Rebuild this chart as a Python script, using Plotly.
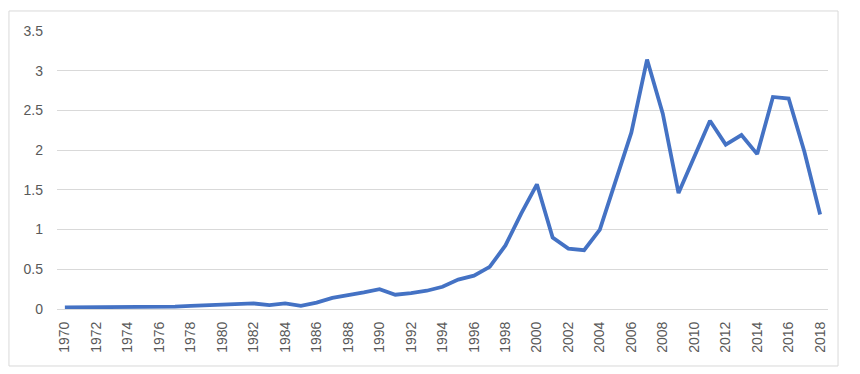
import plotly.graph_objects as go

years = list(range(1970, 2019))
values = [0.02, 0.02, 0.02, 0.02, 0.03, 0.03, 0.02, 0.03, 0.04, 0.05,
          0.06, 0.07, 0.07, 0.05, 0.07, 0.04, 0.08, 0.14, 0.17, 0.21,
          0.25, 0.18, 0.20, 0.23, 0.28, 0.37, 0.42, 0.53, 0.80, 1.20,
          1.57, 0.90, 0.76, 0.74, 1.00, 1.60, 2.22, 3.14, 2.46, 1.46,
          1.93, 2.37, 2.07, 2.19, 1.95, 2.67, 2.65, 1.98, 1.19]
tick_years = list(range(1970, 2019, 2))
y_ticks = [0, 0.5, 1, 1.5, 2, 2.5, 3, 3.5]
y_labels = ["0", "0.5", "1", "1.5", "2", "2.5", "3", "3.5"]

fig = go.Figure()
fig.add_trace(go.Scatter(x=years, y=values, mode="lines",
                         line=dict(color="#4472C4", width=3.8)))

fig.update_layout(
    width=860, height=374,
    margin=dict(l=49, r=40, t=23, b=73),
    paper_bgcolor="white", plot_bgcolor="white",
    showlegend=False,
    font=dict(family="Liberation Sans, Arial, sans-serif", size=14, color="#595959"),
    xaxis=dict(range=[1969.5, 2018.5], tickvals=tick_years,
               ticktext=[str(y) for y in tick_years], tickangle=-90,
               showgrid=False, zeroline=False, showline=True,
               linecolor="#d9d9d9", linewidth=1, ticks="", ticklabelstandoff=6,
               tickfont=dict(size=14)),
    yaxis=dict(range=[0, 3.5], tickvals=y_ticks, ticktext=y_labels,
               showgrid=True, gridcolor="#d9d9d9", gridwidth=1,
               zeroline=False, showline=False, ticks="",
               ticklabelstandoff=13, tickfont=dict(size=14)),
    shapes=[dict(type="rect", xref="paper", yref="paper",
                 x0=-0.0623, x1=1.013, y0=-0.205, y1=1.072,
                 line=dict(color="#d9d9d9", width=1), layer="below")],
)

fig.write_html("out.html")
